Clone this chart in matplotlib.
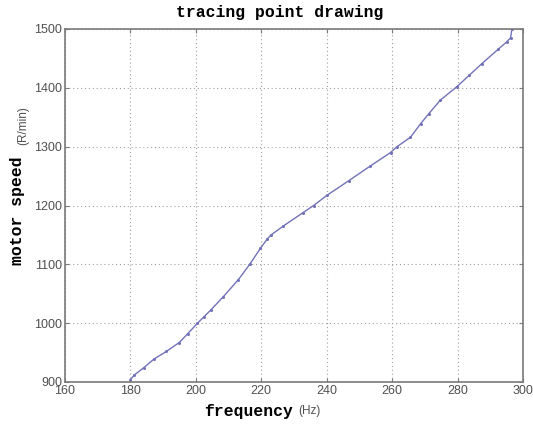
import matplotlib
matplotlib.use('Agg')

import matplotlib.pyplot as plt

FREQ = [
  180.0, 181.2, 184.0, 187.2, 191.0, 194.9, 197.5, 200.5, 202.5, 204.5,
  208.4, 213.0, 216.6, 219.7, 221.8, 223.0, 226.7, 232.8, 236.0, 240.0,
  246.7, 253.3, 259.5, 261.5, 265.6, 268.7, 271.2, 274.7, 279.8, 283.5,
  287.4, 292.5, 295.0, 296.2, 296.6,
]
SPEED = [
  904, 912, 924, 939, 952, 967, 982, 1000, 1011, 1022,
  1045, 1074, 1101, 1127, 1143, 1150, 1165, 1188, 1200, 1217,
  1242, 1267, 1290, 1300, 1316, 1339, 1356, 1379, 1402, 1421,
  1441, 1466, 1478, 1485, 1500,
]
XTICKS = [160, 180, 200, 220, 240, 260, 280, 300]
YTICKS = [900, 1000, 1100, 1200, 1300, 1400, 1500]

W, H = 533, 424
MONO = 'Liberation Mono'
SANS = 'Liberation Sans'
SPINE = '#7a7a7a'

fig = plt.figure(figsize = (W / 100., H / 100.), dpi = 100)
ax = fig.add_axes([65. / W, (H - 382.) / H, 458. / W, 353. / H])

ax.plot(FREQ, SPEED, color = '#7272b8', lw = 1.0, marker = 'o', markersize = 1.2)

ax.set_xlim(160, 300)
ax.set_ylim(900, 1500)
ax.set_xticks(XTICKS)
ax.set_yticks(YTICKS)
ax.grid(True, color = '#a0a0a0', linestyle = (0, (1, 2.5)), lw = 0.8)
ax.tick_params(direction = 'in', length = 3, width = 0.8, color = SPINE,
               top = True, right = True, labelsize = 9, labelcolor = '#505050', pad = 2)
for lbl in ax.get_xticklabels() + ax.get_yticklabels():
  lbl.set_family(SANS)
for sp in ax.spines.values():
  sp.set_color(SPINE)
  sp.set_linewidth(1.2)

# title and axis labels, placed in figure pixels
def px(x, y):
  return x / W, 1 - y / H

fig.text(*px(280, 13), 'tracing point drawing', family = MONO, weight = 'bold',
         fontsize = 11.8, ha = 'center', va = 'center')
fig.text(*px(249, 411.5), 'frequency', family = MONO, weight = 'bold',
         fontsize = 11.8, ha = 'center', va = 'center')
fig.text(*px(309.5, 411), '(Hz)', family = SANS, fontsize = 8.5, color = '#505050',
         ha = 'center', va = 'center')
fig.text(*px(17.5, 211), 'motor speed', family = MONO, weight = 'bold',
         fontsize = 11.8, ha = 'center', va = 'center', rotation = 90)
fig.text(*px(23.5, 126), '(R/min)', family = SANS, fontsize = 8.5, color = '#505050',
         ha = 'center', va = 'center', rotation = 90)

fig.savefig('out.png', dpi = 100)
